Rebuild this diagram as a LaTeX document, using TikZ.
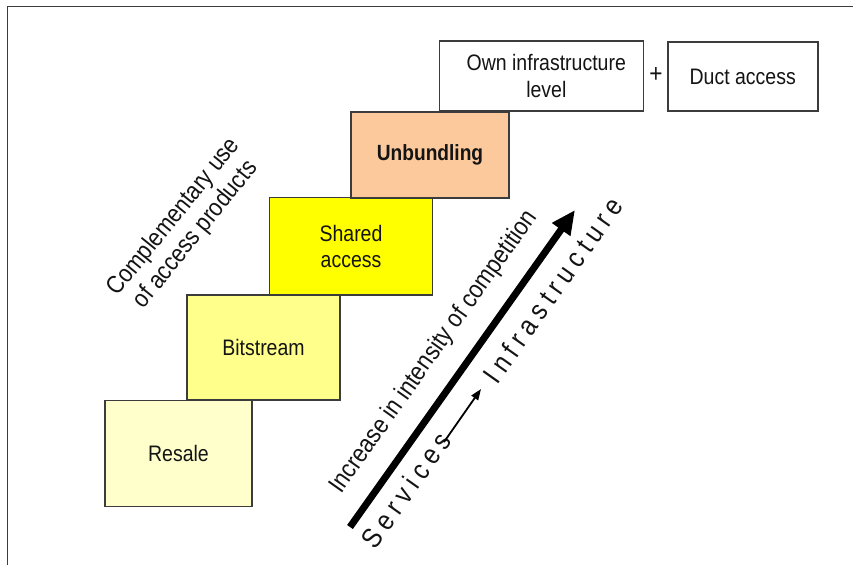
\documentclass[tikz,border=0pt]{standalone}
\usepackage{fontspec}
\setmainfont{Liberation Sans}[FakeStretch=0.87]
\usetikzlibrary{arrows.meta}
\definecolor{edge}{HTML}{3C3C3C}
\definecolor{txt}{HTML}{141414}
\definecolor{resalefill}{HTML}{FFFFCC}
\definecolor{bitfill}{HTML}{FFFF8C}
\definecolor{sharedfill}{HTML}{FFFF00}
\definecolor{unbfill}{HTML}{FCC99C}
\tikzset{
  stepbox/.style={draw=edge, line width=1.6pt, inner sep=0pt, align=center,
    text=txt, font=\fontsize{22.4}{26.5}\selectfont},
  rottext/.style={text=txt, inner sep=0pt, font=\fontsize{25}{28}\selectfont, align=center},
}
\newcommand\lsk{\kern5.8pt}
\begin{document}
\begin{tikzpicture}[x=1pt,y=-1pt]
\useasboundingbox (0,0) rectangle (853,565);
% frame
\coordinate (fl) at (7.5,565);
\coordinate (fc) at (7.5,6.5);
\coordinate (fr) at (853,6.5);
\draw[edge, line width=1.6pt] (fl) -- (fc) -- (fr);
% boxes
\node[stepbox, fill=bitfill, minimum width=152.5pt, minimum height=105.5pt] (bit) at (263.5,347.5) {Bitstream};
\node[stepbox, fill=resalefill, minimum width=147pt, minimum height=106pt] (resale) at (178.5,453.5) {Resale};
\node[stepbox, fill=sharedfill, minimum width=163pt, minimum height=97.5pt] (shared) at (351,246.3) {Shared\\access};
\node[stepbox, fill=unbfill, minimum width=158pt, minimum height=86pt, font=\fontsize{22}{26}\selectfont\bfseries] (unb) at (430,154.7) {Unbundling};
\node[stepbox, fill=white, minimum width=204pt, minimum height=70pt] (own) at (541.3,76) {\hspace*{10pt}Own infrastructure\\\hspace*{10pt}level};
\node[stepbox, fill=white, minimum width=150pt, minimum height=69.5pt] (duct) at (742.7,76.5) {Duct access};
\node[text=txt, inner sep=0pt, font=\fontsize{26}{26}\selectfont] (plus) at (656,75) {+};
% rotated label
\node[rottext, rotate=51] (compl) at (185,226) {Complementary use\\of access products};
% big arrow
\coordinate (bt) at (350,527);
\coordinate (bh) at (575,210);
\draw[line width=7pt, -{Triangle[length=24pt,width=21pt]}] (bt) -- (bh);
\node[rottext, rotate=54.7, font=\fontsize{25.5}{28}\selectfont] (incr) at (434,352) {Increase in intensity of competition};
% services -> infrastructure
\node[rottext, rotate=54.7, font=\fontsize{28}{30}\selectfont] (serv) at (406,490) {S\lsk e\lsk r\lsk v\lsk i\lsk c\lsk e\lsk s};
\node[rottext, rotate=54.7, font=\fontsize{28}{30}\selectfont] (infra) at (553,290) {I\lsk n\lsk f\lsk r\lsk a\lsk s\lsk t\lsk r\lsk u\lsk c\lsk t\lsk u\lsk r\lsk e};
\coordinate (st) at (444,442);
\coordinate (sh) at (481,389);
\draw[line width=1.8pt, -{Triangle[length=11pt,width=8pt]}] (st) -- (sh);
\end{tikzpicture}
\end{document}
